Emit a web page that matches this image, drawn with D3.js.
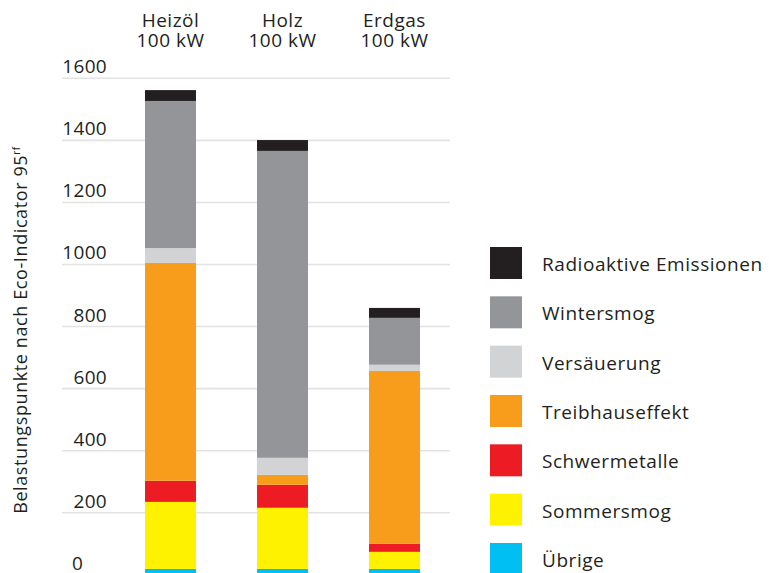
<!DOCTYPE html>
<html><head><meta charset="utf-8">
<script src="https://cdn.jsdelivr.net/npm/d3@7"></script>
<style>body{margin:0;background:#fff}svg{display:block}text{font-family:"Open Sans",sans-serif;fill:#231f20}</style>
</head><body><svg id="c" width="769" height="573"></svg>
<script>
const categories = ["Heizöl", "Holz", "Erdgas"];
const subLabel = "100 kW";
const seriesNames = ["Übrige", "Sommersmog", "Schwermetalle", "Treibhauseffekt", "Versäuerung", "Wintersmog", "Radioaktive Emissionen"];
const seriesColors = ["#00bff3", "#fff200", "#ed1c24", "#f89c1c", "#d1d3d4", "#939598", "#231f20"];
const uebrige = [19, 19, 19];
const sommersmog = [216, 197, 55];
const schwermetalle = [68, 74, 26];
const treibhauseffekt = [702, 32, 557];
const versaeuerung = [48, 55, 20];
const wintersmog = [474, 989, 151];
const radioaktiv = [35, 35, 32];
const yTicks = [0, 200, 400, 600, 800, 1000, 1200, 1400, 1600];
const yTitle = "Belastungspunkte nach Eco-Indicator 95";
const yTitleSup = "rf";

const seriesValues = [uebrige, sommersmog, schwermetalle, treibhauseffekt, versaeuerung, wintersmog, radioaktiv];
const rows = categories.map((c, i) => {
  const r = {cat: c};
  seriesNames.forEach((s, k) => r[s] = seriesValues[k][i]);
  return r;
});
const stack = d3.stack().keys(seriesNames)(rows);

const svg = d3.select("#c");
const x = d3.scaleBand().domain(categories).range([114.5, 450.5]).paddingInner(0.545).paddingOuter(0.2725);
const y = d3.scaleLinear().domain([0, 1600]).range([574.8, 78.3]);

// gridlines
svg.append("g").selectAll("line").data(yTicks).join("line")
  .attr("x1", 62).attr("x2", 450)
  .attr("y1", d => y(d)).attr("y2", d => y(d))
  .attr("stroke", "#e3e3e4").attr("stroke-width", 1.6);

// tick labels
svg.append("g").selectAll("text").data(yTicks).join("text")
  .attr("x", d => d === 0 ? 72 : 107)
  .attr("y", d => y(d) - 5)
  .attr("text-anchor", d => d === 0 ? "start" : "end")
  .attr("font-size", 19).attr("letter-spacing", 0.3)
  .text(d => d);

// bars
const color = d3.scaleOrdinal().domain(seriesNames).range(seriesColors);
svg.append("g").selectAll("g").data(stack).join("g")
  .attr("fill", d => color(d.key))
  .selectAll("rect").data(d => d).join("rect")
  .attr("x", d => x(d.data.cat))
  .attr("width", x.bandwidth())
  .attr("y", d => y(d[1]))
  .attr("height", d => y(d[0]) - y(d[1]));

// category labels
const cx = d => x(d) + x.bandwidth() / 2;
const cl = svg.append("g");
cl.selectAll("text.a").data(categories).join("text").attr("class", "a")
  .attr("x", cx).attr("y", 27).attr("text-anchor", "middle")
  .attr("font-size", 19).attr("letter-spacing", 0.5).text(d => d);
cl.selectAll("text.b").data(categories).join("text").attr("class", "b")
  .attr("x", cx).attr("y", 47).attr("text-anchor", "middle")
  .attr("font-size", 19).attr("letter-spacing", 0.5).text(subLabel);

// y title
const yt = svg.append("text")
  .attr("transform", "translate(27,330) rotate(-90)")
  .attr("text-anchor", "middle")
  .attr("font-size", 18).attr("letter-spacing", 0.6);
yt.append("tspan").text(yTitle);
yt.append("tspan").attr("font-size", 10).attr("dy", -7).text(yTitleSup);

// legend
const legendOrder = seriesNames.slice().reverse();
const lg = svg.append("g").selectAll("g").data(legendOrder).join("g")
  .attr("transform", (d, i) => `translate(490,${247 + i * 49.33})`);
lg.append("rect").attr("width", 32).attr("height", 32).attr("fill", d => color(d));
lg.append("text").attr("x", 52).attr("y", 24).attr("font-size", 19).attr("letter-spacing", 0.55).text(d => d);
</script></body></html>
